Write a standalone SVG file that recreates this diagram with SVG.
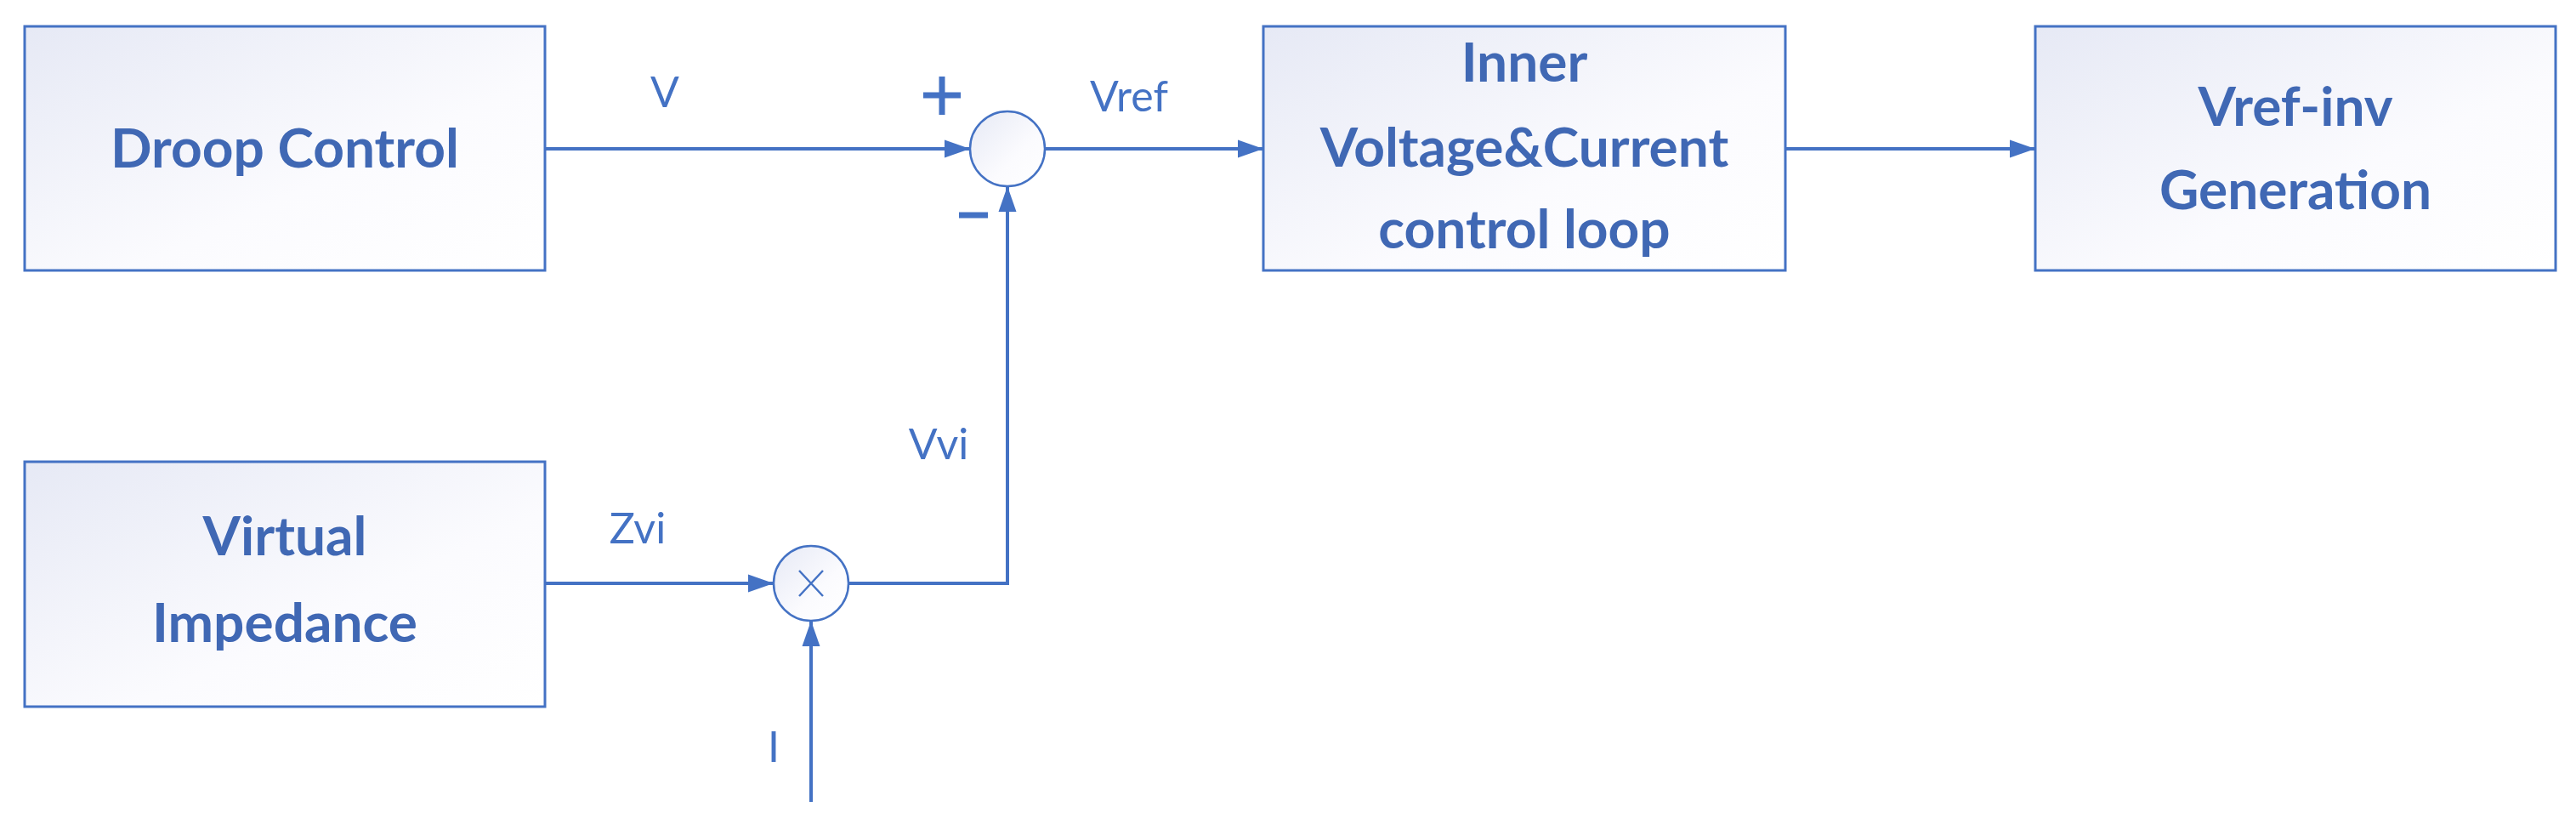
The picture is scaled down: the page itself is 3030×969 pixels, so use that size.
<svg xmlns="http://www.w3.org/2000/svg" width="3030" height="969" viewBox="0 0 3030 969">
<defs>
<linearGradient id="g" x1="0" y1="0" x2="1" y2="1"><stop offset="0" stop-color="#e6e9f5"/><stop offset="0.6" stop-color="#fbfbfe"/><stop offset="1" stop-color="#ffffff"/></linearGradient>
<marker id="a" viewBox="0 0 10 10" refX="10" refY="5" markerWidth="10" markerHeight="10" markerUnits="userSpaceOnUse" orient="auto"><path d="M0,0 L10,5 L0,10 z" fill="#4472c4"/></marker>
<marker id="b" viewBox="0 0 10 10" refX="10" refY="5" markerWidth="30" markerHeight="30" markerUnits="userSpaceOnUse" orient="auto"><path d="M0,1.5 L10,5 L0,8.5 z" fill="#4472c4"/></marker>
</defs>
<style>
.box{fill:url(#g);stroke:#4472c4;stroke-width:3}
.c{fill:url(#g);stroke:#4472c4;stroke-width:2.5}
.t{font-family:Lato,"Open Sans",sans-serif;font-weight:bold;font-size:64px;fill:#4068b4;text-anchor:middle}
.l{font-family:Lato,"Open Sans",sans-serif;font-size:50px;fill:#4472c4;text-anchor:middle}
.w{fill:none;stroke:#4472c4;stroke-width:4}
</style>
<g id="droop"><rect class="box" x="29" y="31" width="612" height="287"/><text class="t" x="335" y="197">Droop Control</text></g>
<g id="virtual"><rect class="box" x="29" y="543" width="612" height="288"/><text class="t" x="335" y="653">Virtual</text><text class="t" x="335" y="755">Impedance</text></g>
<g id="inner"><rect class="box" x="1486" y="31" width="614" height="287"/><text class="t" x="1793" y="96">Inner</text><text class="t" x="1793" y="196">Voltage&amp;Current</text><text class="t" x="1793" y="292">control loop</text></g>
<g id="vrefinv"><rect class="box" x="2394" y="31" width="612" height="287"/><text class="t" x="2700" y="148">Vref-inv</text><text class="t" x="2700" y="246">Generation</text></g>
<g id="sum"><circle class="c" cx="1185" cy="175" r="44"/></g>
<g id="mult"><circle class="c" cx="954" cy="686" r="44"/><path d="M940,671 L968,701 M968,671 L940,701" stroke="#4472c4" stroke-width="2.5"/></g>
<g id="connectors">
<path class="w" d="M641,175 H1141" marker-end="url(#b)"/>
<path class="w" d="M1229,175 H1486" marker-end="url(#b)"/>
<path class="w" d="M2100,175 H2394" marker-end="url(#b)"/>
<path class="w" d="M641,686 H910" marker-end="url(#b)"/>
<path class="w" d="M998,686 H1185 V219" marker-end="url(#b)"/>
<path class="w" d="M954,943 V730" marker-end="url(#b)"/>
</g>
<g id="labels">
<text class="l" x="782" y="126">V</text>
<text class="l" x="1328" y="131">Vref</text>
<text class="l" x="1104" y="540">Vvi</text>
<text class="l" x="750" y="639">Zvi</text>
<text class="l" x="910" y="896">I</text>
<path d="M1108,90 V135 M1086,112 H1130 M1128,253 H1162" stroke="#4472c4" stroke-width="7" fill="none"/>
</g>
</svg>
